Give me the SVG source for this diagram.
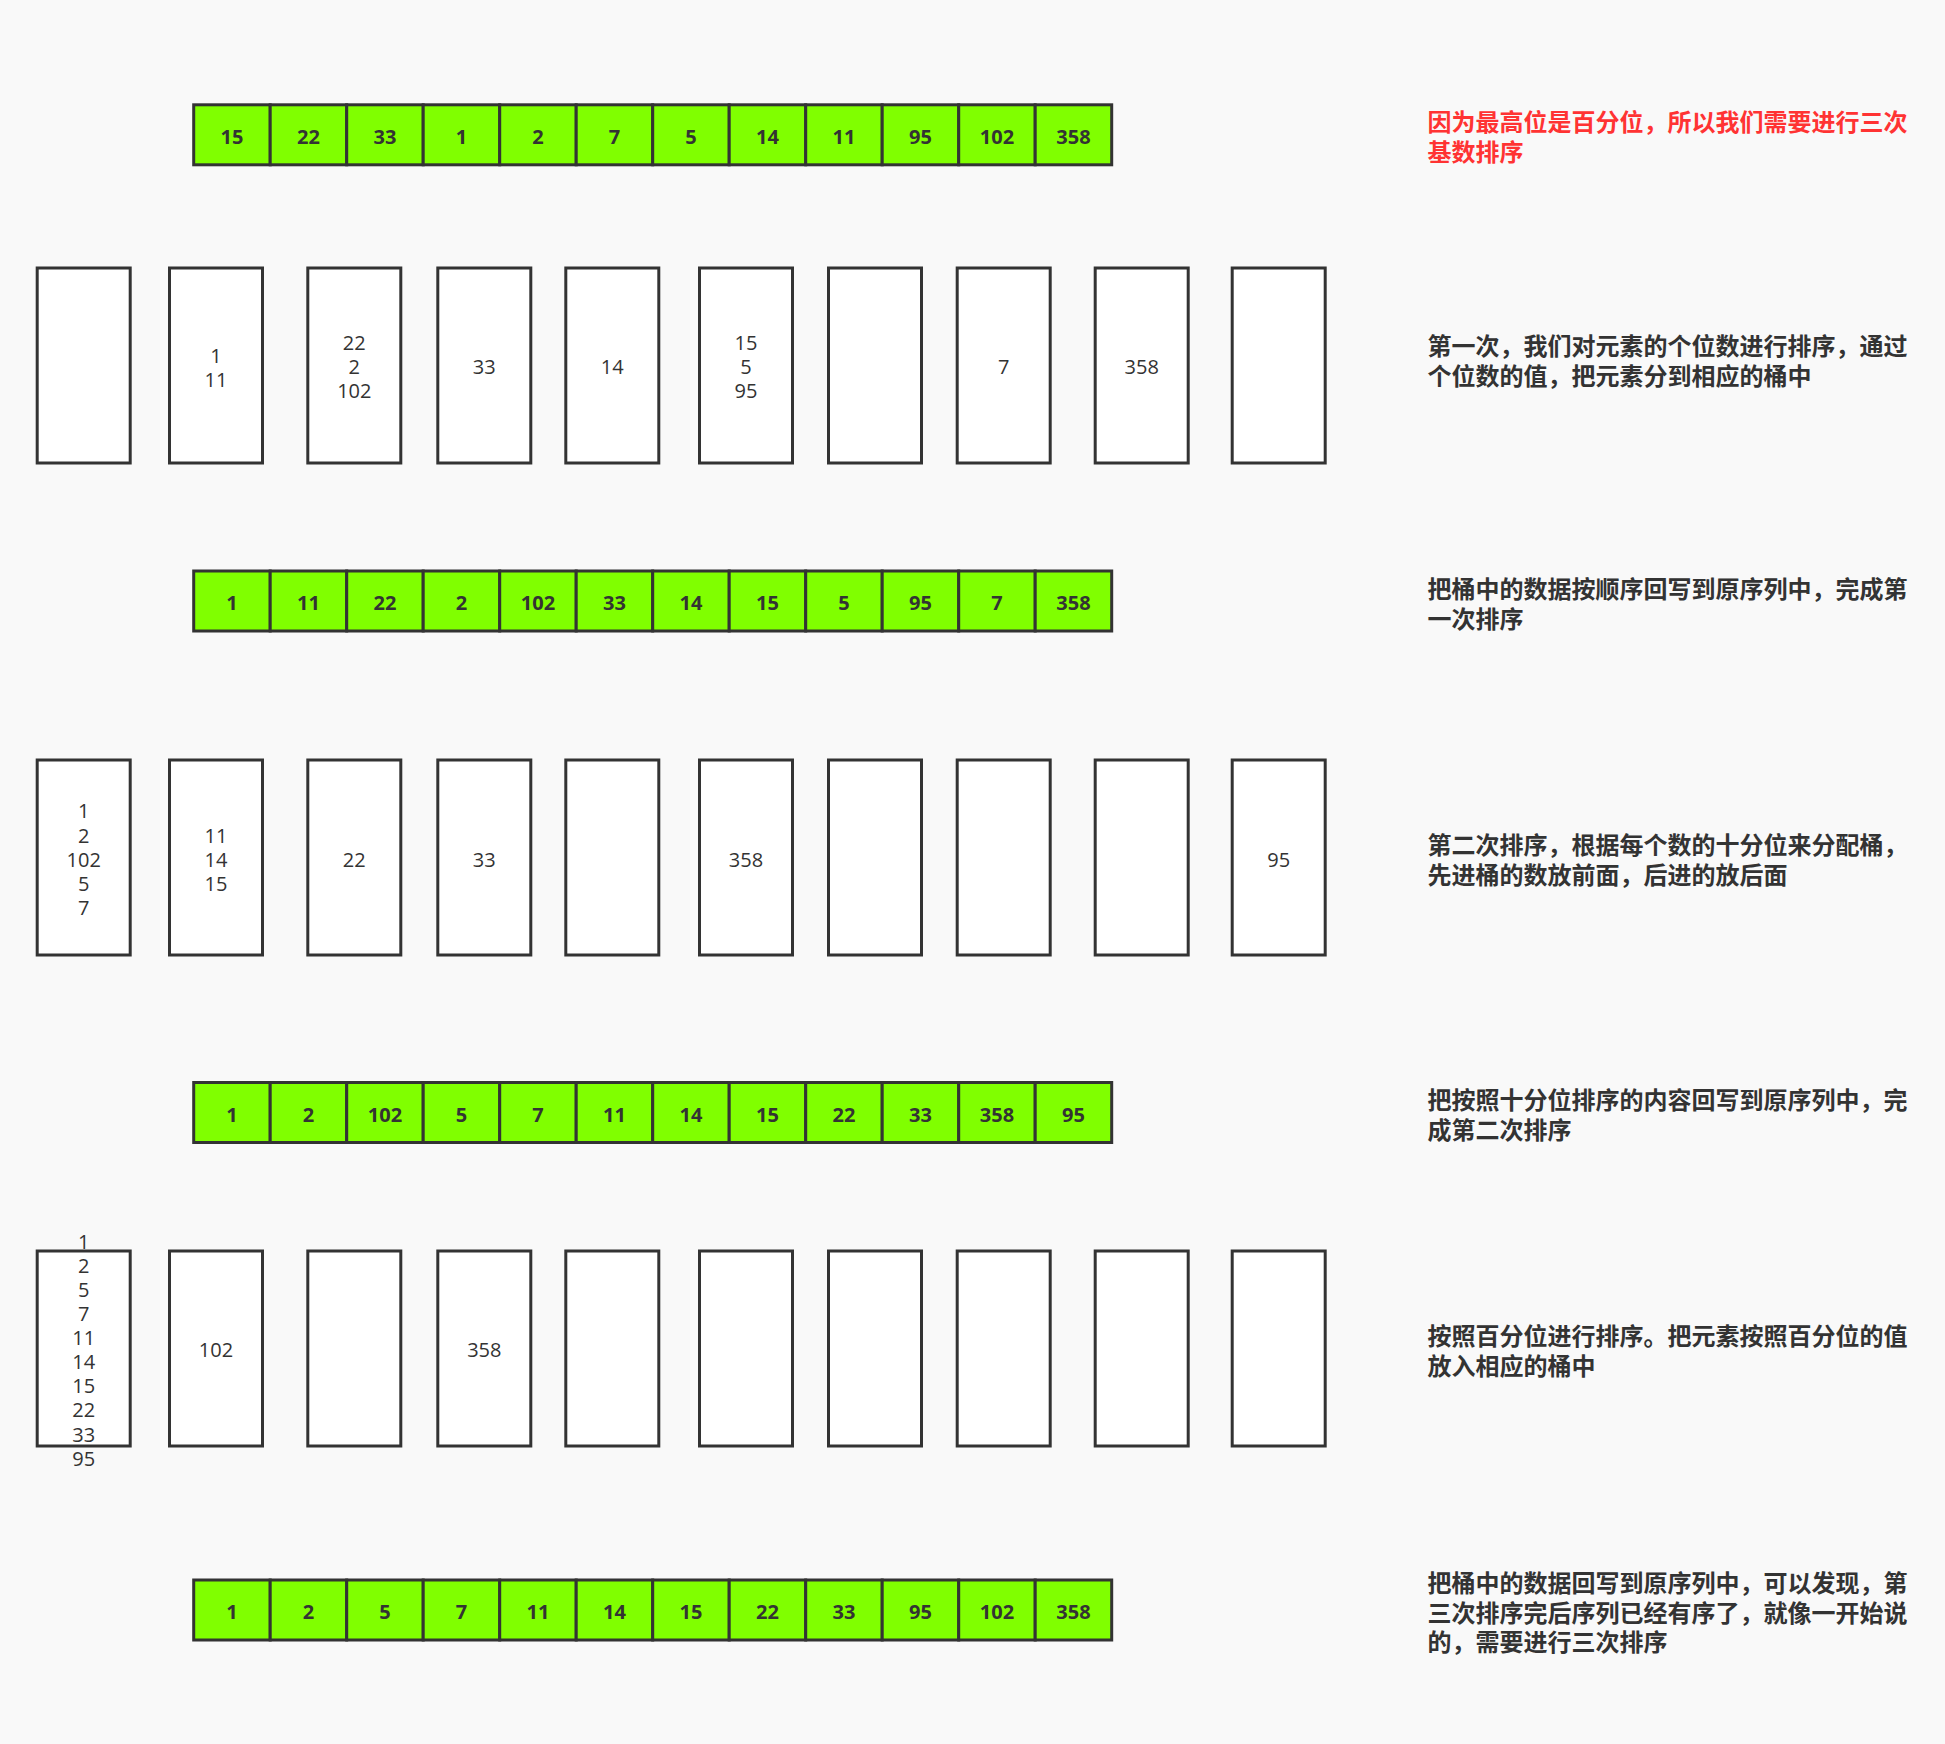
<svg xmlns="http://www.w3.org/2000/svg" width="1945" height="1744" viewBox="0 0 1945 1744">
<style>
.cell{fill:#80ff00;stroke:#333;stroke-width:3}
.bucket{fill:#fff;stroke:#333;stroke-width:3}
.ct{font-family:"Open Sans","Liberation Sans",sans-serif;font-weight:bold;font-size:20px;fill:#333;text-anchor:middle}
.bt{font-family:"Open Sans","Liberation Sans",sans-serif;font-size:20px;fill:#333;text-anchor:middle}
.note{font-family:"Noto Sans CJK SC","Noto Sans",sans-serif;font-weight:bold;font-size:24px;fill:#333}
.red{fill:#ff3333}
</style>
<rect x="0" y="0" width="1945" height="1744" fill="#f9f9f9"/>

<g id="array1">
<rect class="cell" x="193.7" y="104.8" width="76.5" height="60"/><text class="ct" x="232" y="144">15</text>
<rect class="cell" x="270.2" y="104.8" width="76.5" height="60"/><text class="ct" x="308.5" y="144">22</text>
<rect class="cell" x="346.7" y="104.8" width="76.5" height="60"/><text class="ct" x="385" y="144">33</text>
<rect class="cell" x="423.2" y="104.8" width="76.5" height="60"/><text class="ct" x="461.5" y="144">1</text>
<rect class="cell" x="499.7" y="104.8" width="76.5" height="60"/><text class="ct" x="538" y="144">2</text>
<rect class="cell" x="576.2" y="104.8" width="76.5" height="60"/><text class="ct" x="614.5" y="144">7</text>
<rect class="cell" x="652.7" y="104.8" width="76.5" height="60"/><text class="ct" x="691" y="144">5</text>
<rect class="cell" x="729.2" y="104.8" width="76.5" height="60"/><text class="ct" x="767.5" y="144">14</text>
<rect class="cell" x="805.7" y="104.8" width="76.5" height="60"/><text class="ct" x="844" y="144">11</text>
<rect class="cell" x="882.2" y="104.8" width="76.5" height="60"/><text class="ct" x="920.5" y="144">95</text>
<rect class="cell" x="958.7" y="104.8" width="76.5" height="60"/><text class="ct" x="997" y="144">102</text>
<rect class="cell" x="1035.2" y="104.8" width="76.5" height="60"/><text class="ct" x="1073.5" y="144">358</text>
</g>

<g id="array2">
<rect class="cell" x="193.7" y="571" width="76.5" height="60"/><text class="ct" x="232" y="610">1</text>
<rect class="cell" x="270.2" y="571" width="76.5" height="60"/><text class="ct" x="308.5" y="610">11</text>
<rect class="cell" x="346.7" y="571" width="76.5" height="60"/><text class="ct" x="385" y="610">22</text>
<rect class="cell" x="423.2" y="571" width="76.5" height="60"/><text class="ct" x="461.5" y="610">2</text>
<rect class="cell" x="499.7" y="571" width="76.5" height="60"/><text class="ct" x="538" y="610">102</text>
<rect class="cell" x="576.2" y="571" width="76.5" height="60"/><text class="ct" x="614.5" y="610">33</text>
<rect class="cell" x="652.7" y="571" width="76.5" height="60"/><text class="ct" x="691" y="610">14</text>
<rect class="cell" x="729.2" y="571" width="76.5" height="60"/><text class="ct" x="767.5" y="610">15</text>
<rect class="cell" x="805.7" y="571" width="76.5" height="60"/><text class="ct" x="844" y="610">5</text>
<rect class="cell" x="882.2" y="571" width="76.5" height="60"/><text class="ct" x="920.5" y="610">95</text>
<rect class="cell" x="958.7" y="571" width="76.5" height="60"/><text class="ct" x="997" y="610">7</text>
<rect class="cell" x="1035.2" y="571" width="76.5" height="60"/><text class="ct" x="1073.5" y="610">358</text>
</g>

<g id="array3">
<rect class="cell" x="193.7" y="1082.5" width="76.5" height="60"/><text class="ct" x="232" y="1121.5">1</text>
<rect class="cell" x="270.2" y="1082.5" width="76.5" height="60"/><text class="ct" x="308.5" y="1121.5">2</text>
<rect class="cell" x="346.7" y="1082.5" width="76.5" height="60"/><text class="ct" x="385" y="1121.5">102</text>
<rect class="cell" x="423.2" y="1082.5" width="76.5" height="60"/><text class="ct" x="461.5" y="1121.5">5</text>
<rect class="cell" x="499.7" y="1082.5" width="76.5" height="60"/><text class="ct" x="538" y="1121.5">7</text>
<rect class="cell" x="576.2" y="1082.5" width="76.5" height="60"/><text class="ct" x="614.5" y="1121.5">11</text>
<rect class="cell" x="652.7" y="1082.5" width="76.5" height="60"/><text class="ct" x="691" y="1121.5">14</text>
<rect class="cell" x="729.2" y="1082.5" width="76.5" height="60"/><text class="ct" x="767.5" y="1121.5">15</text>
<rect class="cell" x="805.7" y="1082.5" width="76.5" height="60"/><text class="ct" x="844" y="1121.5">22</text>
<rect class="cell" x="882.2" y="1082.5" width="76.5" height="60"/><text class="ct" x="920.5" y="1121.5">33</text>
<rect class="cell" x="958.7" y="1082.5" width="76.5" height="60"/><text class="ct" x="997" y="1121.5">358</text>
<rect class="cell" x="1035.2" y="1082.5" width="76.5" height="60"/><text class="ct" x="1073.5" y="1121.5">95</text>
</g>

<g id="array4">
<rect class="cell" x="193.7" y="1580" width="76.5" height="60"/><text class="ct" x="232" y="1619">1</text>
<rect class="cell" x="270.2" y="1580" width="76.5" height="60"/><text class="ct" x="308.5" y="1619">2</text>
<rect class="cell" x="346.7" y="1580" width="76.5" height="60"/><text class="ct" x="385" y="1619">5</text>
<rect class="cell" x="423.2" y="1580" width="76.5" height="60"/><text class="ct" x="461.5" y="1619">7</text>
<rect class="cell" x="499.7" y="1580" width="76.5" height="60"/><text class="ct" x="538" y="1619">11</text>
<rect class="cell" x="576.2" y="1580" width="76.5" height="60"/><text class="ct" x="614.5" y="1619">14</text>
<rect class="cell" x="652.7" y="1580" width="76.5" height="60"/><text class="ct" x="691" y="1619">15</text>
<rect class="cell" x="729.2" y="1580" width="76.5" height="60"/><text class="ct" x="767.5" y="1619">22</text>
<rect class="cell" x="805.7" y="1580" width="76.5" height="60"/><text class="ct" x="844" y="1619">33</text>
<rect class="cell" x="882.2" y="1580" width="76.5" height="60"/><text class="ct" x="920.5" y="1619">95</text>
<rect class="cell" x="958.7" y="1580" width="76.5" height="60"/><text class="ct" x="997" y="1619">102</text>
<rect class="cell" x="1035.2" y="1580" width="76.5" height="60"/><text class="ct" x="1073.5" y="1619">358</text>
</g>

<g id="buckets1">
<rect class="bucket" x="37.2" y="268" width="93" height="195"/>
<rect class="bucket" x="169.5" y="268" width="93" height="195"/>
<text class="bt" x="216" y="362.8">1</text><text class="bt" x="216" y="386.8">11</text>
<rect class="bucket" x="307.8" y="268" width="93" height="195"/>
<text class="bt" x="354.3" y="350.1">22</text><text class="bt" x="354.3" y="374.2">2</text><text class="bt" x="354.3" y="398.3">102</text>
<rect class="bucket" x="437.8" y="268" width="93" height="195"/>
<text class="bt" x="484.3" y="374.2">33</text>
<rect class="bucket" x="565.8" y="268" width="93" height="195"/>
<text class="bt" x="612.3" y="374.2">14</text>
<rect class="bucket" x="699.5" y="268" width="93" height="195"/>
<text class="bt" x="746" y="350.1">15</text><text class="bt" x="746" y="374.2">5</text><text class="bt" x="746" y="398.3">95</text>
<rect class="bucket" x="828.5" y="268" width="93" height="195"/>
<rect class="bucket" x="957.2" y="268" width="93" height="195"/>
<text class="bt" x="1003.7" y="374.2">7</text>
<rect class="bucket" x="1095.2" y="268" width="93" height="195"/>
<text class="bt" x="1141.7" y="374.2">358</text>
<rect class="bucket" x="1232.2" y="268" width="93" height="195"/>
</g>

<g id="buckets2">
<rect class="bucket" x="37.2" y="760" width="93" height="195"/>
<text class="bt" x="83.7" y="818.4">1</text><text class="bt" x="83.7" y="842.5">2</text><text class="bt" x="83.7" y="866.6">102</text><text class="bt" x="83.7" y="890.7">5</text><text class="bt" x="83.7" y="914.8">7</text>
<rect class="bucket" x="169.5" y="760" width="93" height="195"/>
<text class="bt" x="216" y="842.5">11</text><text class="bt" x="216" y="866.6">14</text><text class="bt" x="216" y="890.7">15</text>
<rect class="bucket" x="307.8" y="760" width="93" height="195"/>
<text class="bt" x="354.3" y="866.6">22</text>
<rect class="bucket" x="437.8" y="760" width="93" height="195"/>
<text class="bt" x="484.3" y="866.6">33</text>
<rect class="bucket" x="565.8" y="760" width="93" height="195"/>
<rect class="bucket" x="699.5" y="760" width="93" height="195"/>
<text class="bt" x="746" y="866.6">358</text>
<rect class="bucket" x="828.5" y="760" width="93" height="195"/>
<rect class="bucket" x="957.2" y="760" width="93" height="195"/>
<rect class="bucket" x="1095.2" y="760" width="93" height="195"/>
<rect class="bucket" x="1232.2" y="760" width="93" height="195"/>
<text class="bt" x="1278.7" y="866.6">95</text>
</g>

<g id="buckets3">
<rect class="bucket" x="37.2" y="1251" width="93" height="195"/>
<text class="bt" x="83.7" y="1248.7">1</text><text class="bt" x="83.7" y="1272.8">2</text><text class="bt" x="83.7" y="1296.9">5</text><text class="bt" x="83.7" y="1321">7</text><text class="bt" x="83.7" y="1345.1">11</text><text class="bt" x="83.7" y="1369.2">14</text><text class="bt" x="83.7" y="1393.3">15</text><text class="bt" x="83.7" y="1417.4">22</text><text class="bt" x="83.7" y="1441.5">33</text><text class="bt" x="83.7" y="1465.6">95</text>
<rect class="bucket" x="169.5" y="1251" width="93" height="195"/>
<text class="bt" x="216" y="1356.6">102</text>
<rect class="bucket" x="307.8" y="1251" width="93" height="195"/>
<rect class="bucket" x="437.8" y="1251" width="93" height="195"/>
<text class="bt" x="484.3" y="1356.6">358</text>
<rect class="bucket" x="565.8" y="1251" width="93" height="195"/>
<rect class="bucket" x="699.5" y="1251" width="93" height="195"/>
<rect class="bucket" x="828.5" y="1251" width="93" height="195"/>
<rect class="bucket" x="957.2" y="1251" width="93" height="195"/>
<rect class="bucket" x="1095.2" y="1251" width="93" height="195"/>
<rect class="bucket" x="1232.2" y="1251" width="93" height="195"/>
</g>

<g id="notes">
<text class="note red" x="1427.5" y="130.5">因为最高位是百分位，所以我们需要进行三次</text>
<text class="note red" x="1427.5" y="161">基数排序</text>
<text class="note" x="1427.5" y="355">第一次，我们对元素的个位数进行排序，通过</text>
<text class="note" x="1427.5" y="385">个位数的值，把元素分到相应的桶中</text>
<text class="note" x="1427.5" y="598">把桶中的数据按顺序回写到原序列中，完成第</text>
<text class="note" x="1427.5" y="628">一次排序</text>
<text class="note" x="1427.5" y="854">第二次排序，根据每个数的十分位来分配桶，</text>
<text class="note" x="1427.5" y="883.5">先进桶的数放前面，后进的放后面</text>
<text class="note" x="1427.5" y="1109">把按照十分位排序的内容回写到原序列中，完</text>
<text class="note" x="1427.5" y="1139">成第二次排序</text>
<text class="note" x="1427.5" y="1345">按照百分位进行排序。把元素按照百分位的值</text>
<text class="note" x="1427.5" y="1375">放入相应的桶中</text>
<text class="note" x="1427.5" y="1592">把桶中的数据回写到原序列中，可以发现，第</text>
<text class="note" x="1427.5" y="1621.5">三次排序完后序列已经有序了，就像一开始说</text>
<text class="note" x="1427.5" y="1651">的，需要进行三次排序</text>
</g>
<g id="connectors"></g>
</svg>
